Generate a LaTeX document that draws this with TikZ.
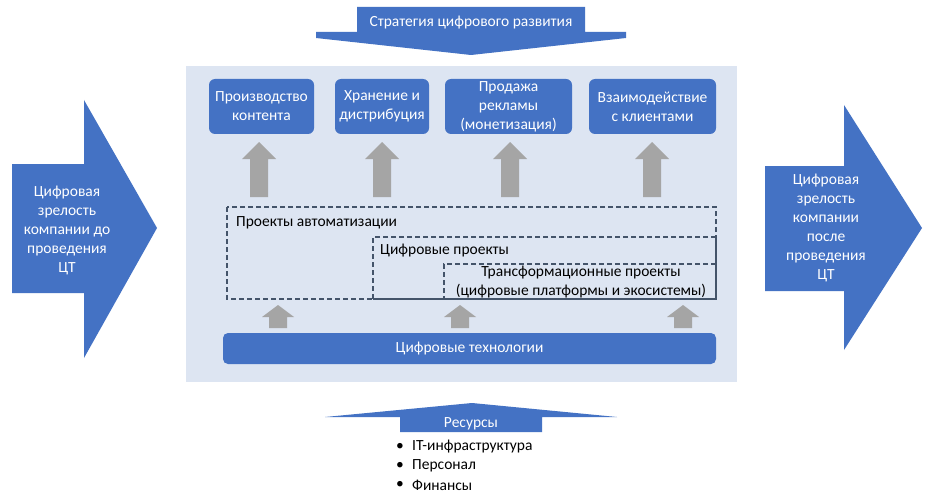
\documentclass[tikz,border=0pt]{standalone}
\usepackage{fontspec}
\setmainfont{Carlito}
\usetikzlibrary{positioning}
\definecolor{obl}{HTML}{4472C4}
\definecolor{panelc}{HTML}{DDE5F2}
\definecolor{grayar}{HTML}{A5A5A5}
\definecolor{dashc}{HTML}{44546A}
\tikzset{
  bluebox/.style={draw=none,fill=obl,rounded corners=6pt,text=white,align=center,inner sep=0pt,font=\fontsize{15.5}{19}\selectfont},
  plain/.style={inner sep=0pt,align=center,font=\fontsize{15.5}{19}\selectfont},
  wtext/.style={plain,text=white},
  dbox/.style={draw=dashc,line width=1.3pt,dash pattern=on 5pt off 3pt},
  sbox/.style={draw=dashc,line width=1.3pt},
  garrow/.style={fill=grayar,draw=none},
  barrow/.style={fill=obl,draw=none}
}
\newcommand{\gup}[5]{% x, tip y, head base y, bottom y, head half width
  \fill[grayar] (#1-#5,#3) -- (#1,#2) -- (#1+#5,#3) -- (#1+9,#3) -- (#1+9,#4) -- (#1-9,#4) -- (#1-9,#3) -- cycle;}
\begin{document}
\begin{tikzpicture}[x=1pt,y=-1pt]
\useasboundingbox (0,0) rectangle (931,500);
\fill[white] (0,0) rectangle (931,500);
% panel
\fill[panelc] (186,66) rectangle (737,382);
% top arrow
\fill[obl] (357,7) -- (585,7) -- (585,32) -- (626,32) -- (626,38) -- (471,55) -- (316,38) -- (316,32) -- (357,32) -- cycle;
\node[wtext] (strat) at (471,23) {Стратегия цифрового развития};
% left arrow
\fill[obl] (12,164) -- (84,164) -- (84,100) -- (157,228) -- (84,358) -- (84,293) -- (12,293) -- cycle;
\node[wtext] (before) at (67,230) {Цифровая\\зрелость\\компании до\\проведения\\ЦТ};
% right arrow
\fill[obl] (765,166) -- (844,166) -- (844,105) -- (922,228) -- (844,350) -- (844,291) -- (765,291) -- cycle;
\node[wtext] (after) at (826,228) {Цифровая\\зрелость\\компании\\после\\проведения\\ЦТ};
% top boxes
\node[bluebox,minimum width=105pt,minimum height=55pt] (b1) at (261.5,106.5) {Производство\\контента};
\node[bluebox,minimum width=94pt,minimum height=55pt] (b2) at (382,106.5) {Хранение и\\дистрибуция};
\node[bluebox,minimum width=127pt,minimum height=55pt] (b3) at (508.5,106.5) {Продажа\\рекламы\\(монетизация)};
\node[bluebox,minimum width=127pt,minimum height=55pt] (b4) at (652.5,106.5) {Взаимодействие\\с клиентами};
% big gray arrows
\gup{259}{142}{159}{197}{17}
\gup{382}{142}{159}{197}{17}
\gup{510}{142}{159}{197}{17}
\gup{652}{142}{159}{197}{17}
% dashed boxes
\draw[dbox] (227,207) rectangle (716,299);
\draw[dbox] (716,237) -- (373,237) -- (373,299);
\draw[dbox] (716,264) -- (444,264) -- (444,299);
\draw[sbox] (373,299) -- (716,299) -- (716,237);
\node[plain,anchor=west] (auto) at (236,223) {Проекты автоматизации};
\node[plain,anchor=west] (dig) at (380,251) {Цифровые проекты};
\node[plain] (trans) at (581,282) {Трансформационные проекты\\(цифровые платформы и экосистемы)};
% small gray arrows
\gup{278}{305}{317}{328}{16}
\gup{460}{305}{317}{328}{16}
\gup{683}{305}{317}{328}{16}
% bar
\node[bluebox,rounded corners=5pt,minimum width=493pt,minimum height=31pt] (tech) at (469.5,348.5) {Цифровые технологии};
% bottom arrow
\fill[obl] (325,417) -- (472,403) -- (617,417) -- (542,417) -- (542,432) -- (400,432) -- (400,417) -- cycle;
\node[wtext] (res) at (471,424) {Ресурсы};
\node[plain] (bu1) at (400,447) {•};
\node[plain] (bu2) at (400,466) {•};
\node[plain] (bu3) at (400,485) {•};
\node[plain,anchor=west] (r1) at (412,447) {IT-инфраструктура};
\node[plain,anchor=west] (r2) at (412,466) {Персонал};
\node[plain,anchor=west] (r3) at (412,485) {Финансы};
\end{tikzpicture}
\end{document}
